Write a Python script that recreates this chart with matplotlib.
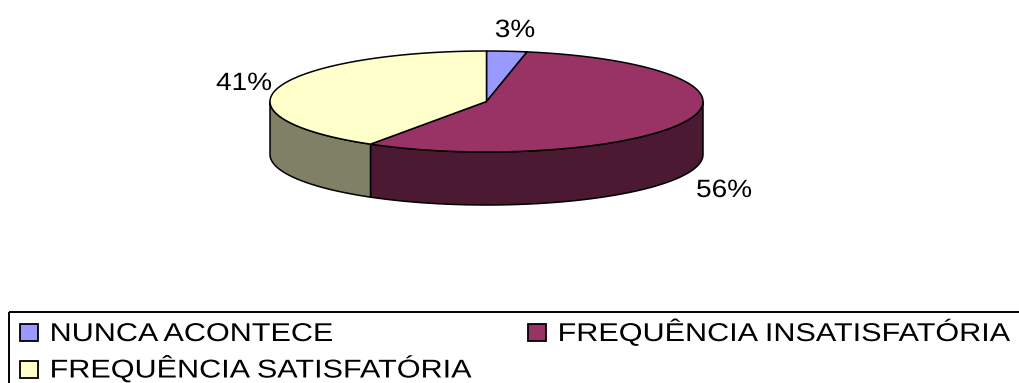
import numpy as np
import matplotlib
matplotlib.use("Agg")
import matplotlib.pyplot as plt
from matplotlib.patches import Polygon, Rectangle
from matplotlib import patheffects
from matplotlib.transforms import Affine2D

# survey answers (percent)
categories = ["NUNCA ACONTECE", "FREQUÊNCIA INSATISFATÓRIA", "FREQUÊNCIA SATISFATÓRIA"]
values = [3, 56, 41]
top_colors = ["#9999FF", "#993366", "#FFFFCC"]
side_colors = ["#4C4C80", "#4C1933", "#808066"]

plt.rcParams['font.family'] = ['Liberation Sans', 'DejaVu Sans']


class Stretch(patheffects.AbstractPathEffect):
    """widen glyphs horizontally (anchor 0 = left edge, 0.5 = centre)"""
    def __init__(self, sx, anchor=0.0):
        super().__init__()
        self.sx = sx
        self.anchor = anchor

    def draw_path(self, renderer, gc, tpath, affine, rgbFace=None):
        ext = tpath.get_extents()
        xa = ext.x0 + self.anchor * (ext.x1 - ext.x0)
        x0, y0 = affine.transform([[xa, 0.0]])[0]
        aff = affine + Affine2D().translate(-x0, -y0).scale(self.sx, 1).translate(x0, y0)
        renderer.draw_path(gc, tpath, aff, rgbFace)


W, H = 1019, 383
fig = plt.figure(figsize=(W / 100., H / 100.), dpi=100)
ax = fig.add_axes([0, 0, 1, 1])
ax.set_xlim(0, W)
ax.set_ylim(H, 0)
ax.axis("off")

# 3d pie geometry (pixels)
cx, cy = 486.5, 101.5
rx, ry = 216.5, 50.5
depth = 53.


def ell(th):
    th = np.radians(th)
    return np.column_stack([cx + rx*np.cos(th), cy - ry*np.sin(th)])


frac = np.array(values, float) / np.sum(values)
edges = 90 - 360*np.concatenate([[0], np.cumsum(frac)])

# sides (front half only)
for i in range(len(values)):
    a0, a1 = edges[i], edges[i+1]
    lo, hi = max(a1, -180), min(a0, 0)
    if lo >= hi:
        continue
    th = np.linspace(hi, lo, 200)
    top = ell(th)
    bot = top + [0, depth]
    pts = np.vstack([top, bot[::-1]])
    ax.add_patch(Polygon(pts, closed=True, fc=side_colors[i], ec="black", lw=1.1, zorder=2))

# top faces
for i in range(len(values)):
    th = np.linspace(edges[i], edges[i+1], 300)
    pts = np.vstack([[cx, cy], ell(th)])
    ax.add_patch(Polygon(pts, closed=True, fc=top_colors[i], ec="black", lw=1.1,
                         joinstyle="round", zorder=3))

# percentage labels (baseline positions)
label_pos = [(515, 37), (724, 197), (244, 90)]
for v, (lx, ly) in zip(values, label_pos):
    ax.text(lx, ly, "%d%%" % v, fontsize=18, ha="center", va="baseline", color="black",
            path_effects=[Stretch(1.12, 0.5)], zorder=5)

# legend
ax.add_patch(Rectangle((9.5, 311.5), 1200, 120, fill=False, ec="black", lw=1.4,
                       clip_on=False, zorder=4))
leg_pos = [(20, 341), (528, 341), (20, 377.5)]
for name, col, (lx, ly) in zip(categories, top_colors, leg_pos):
    ax.add_patch(Rectangle((lx, ly - 17), 18, 17, fc=col, ec="black", lw=1.3, zorder=5))
    ax.text(lx + 30, ly, name, fontsize=18.5, ha="left", va="baseline", color="black",
            path_effects=[Stretch(1.19, 0.0)], zorder=5)

fig.savefig("out.png", dpi=100)
